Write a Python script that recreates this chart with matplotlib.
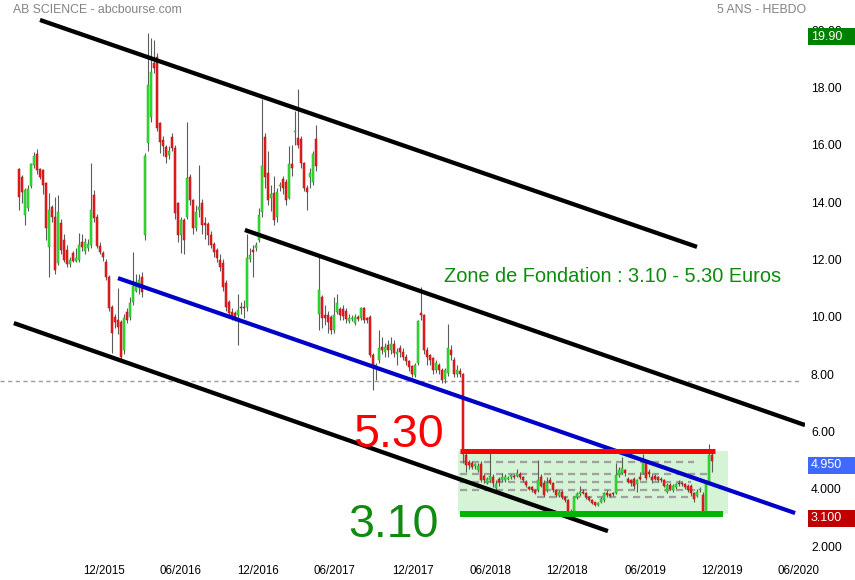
import numpy as np
import matplotlib
matplotlib.use("Agg")
import matplotlib.pyplot as plt
import matplotlib.transforms as mtransforms
from matplotlib import font_manager
from matplotlib.patches import Rectangle

# ---------------------------------------------------------------- weekly OHLC
opens = [
    15.16, 14.88, 13.55, 13.80, 14.57, 15.30, 15.68, 15.16, 15.12, 14.67,
    12.44, 13.83, 13.48, 11.88, 13.27, 12.68, 12.33, 11.84, 12.23, 11.95,
    11.98, 12.60, 12.30, 12.40, 12.51, 14.25, 13.48, 12.47, 12.23, 11.91,
    11.39, 10.34, 9.99, 9.89, 9.82, 8.84, 10.17, 9.99, 10.52, 10.90,
    11.00, 11.39, 12.86, 16.07, 16.97, 18.86, 19.07, 16.76, 16.17, 15.93,
    15.65, 16.28, 15.89, 13.97, 12.85, 13.38, 13.48, 14.88, 14.08, 13.10,
    13.73, 13.97, 13.27, 13.24, 12.85, 12.54, 12.33, 11.98, 11.88, 11.18,
    10.52, 10.17, 10.13, 10.06, 10.33, 10.33, 10.34, 12.02, 12.33, 12.40,
    12.68, 13.66, 16.28, 15.02, 14.15, 14.32, 13.48, 14.55, 14.81, 14.70,
    14.15, 15.33, 16.45, 16.24, 16.20, 15.37, 14.50, 14.88, 14.70, 16.20,
    10.10, 10.69, 10.06, 10.06, 9.99, 9.54, 10.17, 10.27, 10.27, 10.20,
    9.85, 9.93, 9.78, 10.00, 9.96, 10.31, 9.95, 9.99, 8.67, 8.20,
    8.49, 8.94, 8.77, 9.00, 8.84, 9.06, 8.70, 8.92, 8.77, 8.60,
    8.45, 8.27, 7.97, 8.39, 10.13, 10.06, 8.84, 8.65, 8.56, 8.14,
    8.32, 8.14, 7.82, 8.04, 8.84, 8.49, 8.00, 8.10, 8.00, 5.18,
    4.92, 4.90, 4.78, 4.65, 4.85, 4.45, 4.20, 4.30, 4.40, 4.02,
    4.35, 4.30, 4.30, 4.35, 4.42, 4.45, 4.45, 4.50, 4.40, 4.22,
    4.05, 4.05, 3.95, 3.95, 4.40, 4.20, 3.95, 4.30, 4.20, 3.95,
    3.75, 3.90, 3.72, 3.60, 3.20, 3.19, 3.70, 3.80, 3.90, 3.85,
    3.70, 3.62, 3.52, 3.43, 3.55, 3.61, 3.85, 3.80, 3.85, 3.85,
    4.48, 4.55, 4.65, 4.35, 4.30, 4.35, 4.15, 4.40, 4.55, 4.90,
    4.60, 4.40, 4.45, 4.40, 4.35, 4.30, 3.88, 4.13, 3.95, 4.05,
    4.20, 4.20, 4.15, 4.10, 4.10, 3.85, 3.75, 3.95, 3.78, 3.19,
    4.20, 5.18,
]
highs = [
    15.20, 14.95, 14.50, 14.60, 15.37, 15.75, 15.86, 15.20, 15.15, 14.70,
    14.32, 13.90, 14.18, 14.25, 13.40, 12.90, 12.50, 12.10, 12.30, 12.40,
    12.93, 12.90, 12.75, 12.70, 15.37, 14.43, 13.60, 12.60, 12.30, 12.00,
    11.45, 10.40, 10.10, 11.00, 9.90, 10.10, 10.30, 10.70, 12.26, 11.50,
    11.50, 11.55, 15.70, 19.90, 19.74, 19.66, 19.20, 16.80, 16.30, 16.00,
    15.95, 16.42, 16.00, 14.00, 13.50, 13.45, 16.80, 15.00, 14.10, 13.90,
    15.30, 14.10, 13.50, 13.30, 13.00, 12.60, 12.40, 12.20, 12.00, 11.30,
    10.60, 10.30, 10.20, 10.80, 10.50, 10.60, 12.90, 12.40, 12.50, 12.60,
    13.80, 17.60, 16.40, 15.80, 14.60, 14.90, 14.50, 14.70, 14.90, 14.80,
    15.95, 16.00, 17.20, 17.95, 16.30, 15.40, 14.60, 15.20, 15.80, 16.70,
    12.09, 10.75, 10.40, 10.20, 10.05, 10.70, 10.80, 10.35, 10.40, 10.30,
    10.10, 10.05, 10.10, 10.05, 10.35, 10.35, 10.00, 10.05, 8.75, 8.40,
    9.55, 9.30, 9.10, 9.20, 9.30, 9.20, 8.90, 9.00, 8.90, 8.70,
    8.50, 8.30, 8.40, 9.90, 11.04, 10.10, 8.95, 8.70, 8.60, 8.50,
    8.40, 8.20, 8.20, 9.75, 9.00, 8.60, 8.30, 8.20, 8.05, 5.40,
    5.00, 4.95, 4.90, 4.90, 4.95, 4.50, 4.40, 5.25, 4.50, 4.30,
    4.40, 4.55, 4.50, 4.45, 4.50, 4.50, 4.70, 4.60, 4.45, 4.30,
    4.10, 4.10, 4.00, 5.00, 4.50, 4.30, 4.40, 4.40, 4.25, 4.00,
    3.95, 3.95, 3.75, 3.65, 3.30, 3.75, 3.90, 4.10, 4.00, 3.90,
    3.75, 3.65, 3.55, 3.55, 3.70, 3.90, 3.95, 3.85, 3.90, 4.90,
    4.75, 5.10, 4.70, 4.40, 4.35, 4.40, 4.35, 4.60, 5.20, 4.95,
    4.70, 4.50, 4.50, 4.45, 4.40, 4.35, 4.20, 4.20, 4.15, 4.20,
    4.30, 4.25, 4.20, 4.15, 4.15, 3.90, 4.00, 4.05, 3.90, 4.30,
    5.56, 5.30,
]
lows = [
    13.73, 13.97, 13.20, 13.70, 14.50, 15.20, 15.00, 14.80, 14.30, 12.68,
    11.39, 13.30, 11.50, 11.80, 12.20, 11.90, 11.75, 11.75, 11.90, 11.90,
    11.90, 12.30, 12.20, 12.30, 12.40, 13.30, 12.40, 12.20, 11.95, 11.30,
    10.20, 8.74, 9.60, 9.40, 8.50, 8.70, 9.80, 9.90, 10.40, 10.85,
    10.80, 10.70, 12.68, 15.80, 16.80, 18.50, 16.50, 15.70, 15.60, 15.37,
    15.50, 15.80, 13.40, 12.60, 12.23, 12.20, 13.40, 13.90, 12.90, 13.00,
    13.50, 12.90, 12.70, 12.50, 12.40, 12.10, 11.90, 11.60, 10.90, 10.20,
    9.95, 9.90, 9.85, 9.02, 10.10, 9.95, 10.20, 11.90, 11.40, 12.30,
    12.60, 13.50, 14.50, 13.90, 13.70, 13.20, 13.30, 14.40, 14.30, 13.90,
    14.10, 14.90, 16.00, 15.90, 15.20, 14.40, 13.73, 14.50, 14.60, 15.10,
    9.54, 9.60, 9.70, 9.45, 9.40, 9.45, 10.10, 9.90, 9.90, 9.80,
    9.80, 9.85, 9.70, 9.85, 9.90, 9.80, 9.80, 8.60, 7.44, 7.80,
    8.40, 8.70, 8.60, 8.60, 8.70, 8.60, 8.30, 8.60, 8.50, 8.30,
    8.10, 7.90, 7.90, 8.30, 9.90, 8.70, 8.30, 8.30, 8.00, 8.05,
    8.00, 7.70, 7.70, 7.95, 8.50, 7.90, 7.90, 7.90, 4.90, 4.60,
    4.70, 4.70, 4.70, 4.60, 4.25, 4.20, 4.15, 4.25, 4.05, 3.95,
    4.10, 4.25, 4.25, 4.30, 4.35, 4.35, 4.40, 4.35, 4.25, 4.05,
    3.95, 3.90, 3.80, 3.90, 4.05, 3.70, 3.90, 4.15, 3.90, 3.70,
    3.70, 3.65, 3.55, 3.12, 3.10, 3.10, 3.65, 3.75, 3.80, 3.65,
    3.58, 3.45, 3.40, 3.40, 3.50, 3.55, 3.70, 3.70, 3.75, 3.80,
    4.40, 4.50, 4.45, 4.20, 4.10, 4.00, 3.90, 4.30, 4.50, 4.30,
    4.40, 4.20, 4.30, 4.25, 4.25, 4.05, 3.85, 3.95, 3.90, 4.00,
    4.10, 4.10, 4.00, 3.90, 3.75, 3.55, 3.70, 3.90, 3.10, 3.15,
    4.15, 4.60,
]
closes = [
    14.19, 14.36, 14.43, 14.46, 15.33, 15.60, 15.12, 14.88, 14.60, 13.10,
    13.73, 13.48, 11.63, 13.66, 12.33, 11.98, 11.84, 11.98, 11.95, 12.05,
    12.51, 12.45, 12.60, 12.55, 13.73, 13.45, 12.47, 12.26, 12.10, 11.39,
    10.31, 9.43, 9.82, 9.64, 8.60, 9.96, 9.89, 10.48, 11.07, 11.20,
    11.30, 10.87, 15.61, 18.09, 18.54, 18.68, 16.59, 16.10, 15.96, 15.58,
    15.79, 15.89, 13.62, 12.85, 13.38, 12.68, 14.84, 14.08, 13.10, 13.66,
    13.83, 13.20, 13.20, 12.85, 12.50, 12.26, 12.05, 11.74, 11.04, 10.34,
    10.13, 10.03, 9.99, 10.24, 10.30, 10.30, 12.05, 12.16, 12.26, 12.50,
    13.55, 15.26, 14.88, 14.08, 14.29, 13.38, 14.36, 14.60, 14.50, 14.08,
    15.33, 15.20, 16.50, 16.00, 15.37, 14.50, 14.36, 15.02, 15.68, 15.26,
    10.94, 9.96, 9.95, 9.82, 9.54, 10.06, 10.48, 10.06, 10.03, 9.92,
    9.96, 9.97, 10.00, 9.93, 10.31, 9.90, 9.90, 8.67, 8.21, 8.32,
    8.91, 8.84, 8.94, 8.84, 9.06, 8.74, 8.77, 8.77, 8.60, 8.45,
    8.25, 8.00, 8.32, 9.85, 10.06, 8.84, 8.60, 8.50, 8.14, 8.40,
    8.14, 7.79, 8.14, 8.91, 8.67, 8.00, 8.14, 8.00, 5.20, 4.83,
    4.83, 4.75, 4.85, 4.80, 4.30, 4.30, 4.35, 4.45, 4.20, 4.16,
    4.25, 4.40, 4.42, 4.38, 4.48, 4.40, 4.55, 4.40, 4.30, 4.12,
    4.00, 3.95, 3.85, 4.30, 4.10, 3.78, 4.20, 4.20, 3.95, 3.78,
    3.90, 3.72, 3.60, 3.19, 3.15, 3.71, 3.80, 3.90, 3.85, 3.70,
    3.62, 3.50, 3.43, 3.50, 3.65, 3.85, 3.78, 3.75, 3.80, 4.48,
    4.65, 4.72, 4.55, 4.25, 4.20, 4.10, 4.30, 4.35, 4.90, 4.37,
    4.50, 4.30, 4.35, 4.30, 4.30, 4.10, 4.13, 4.00, 4.10, 4.15,
    4.15, 4.15, 4.05, 3.95, 3.85, 3.65, 3.90, 4.00, 3.19, 4.20,
    5.18, 4.95,
]

# ---------------------------------------------------------------- axes labels
xtick_pos = [28.3, 54.0, 79.7, 105.3, 131.3, 157.0, 182.7, 208.7, 234.3, 259.7]
xtick_labels = ["12/2015", "06/2016", "12/2016", "06/2017", "12/2017",
                "06/2018", "12/2018", "06/2019", "12/2019", "06/2020"]
ytick_vals = [2, 4, 6, 8, 10, 12, 14, 16, 18, 20]
ytick_labels = ["2.000", "4.000", "6.00", "8.00", "10.00",
                "12.00", "14.00", "16.00", "18.00", "20.00"]

# ---------------------------------------------------------------- drawings
# trend lines as (bar index, price) end points
channel_top = [(7.0, 20.36), (226.0, 12.44)]
channel_mid = [(75.3, 13.03), (262.0, 6.22)]
channel_low = [(-1.7, 9.78), (196.3, 2.52)]
blue_trend = [(33.0, 11.35), (258.7, 3.15)]

ref_level = 7.75
zone_low, zone_high = 3.10, 5.30
zone_span = (146.3, 236.3)
red_span = (147.0, 232.0)
green_span = (147.0, 234.7)
zone_levels = [4.93, 4.51, 4.22, 3.94, 3.71]
zone_level_start = [147.0, 147.0, 147.0, 147.0, 172.7]
zone_level_end = [225.0, 230.0, 224.0, 227.0, 225.0]

price_tags = [(19.90, "19.90", "#008000"),
              (4.95, "4.950", "#4169ff"),
              (3.10, "3.100", "#c00000")]

# ---------------------------------------------------------------- fonts
names = {f.name for f in font_manager.fontManager.ttflist}
base_font = "Liberation Sans" if "Liberation Sans" in names else "DejaVu Sans"
if "Liberation Sans Narrow" in names:
    date_font, date_size = "Liberation Sans Narrow", 10.0
else:
    date_font, date_size = base_font, 8.3
plt.rcParams["font.family"] = [base_font, "DejaVu Sans"]

W, H = 855, 580
fig = plt.figure(figsize=(W / 100, H / 100), dpi=100)
ax = fig.add_axes([0.0, 24 / H, 805 / W, 556 / H])

o = np.array(opens)
hi = np.array(highs)
lo = np.array(lows)
c = np.array(closes)
idx = np.arange(len(c))
hi = np.maximum(hi, np.maximum(o, c))
lo = np.minimum(lo, np.minimum(o, c))

# foundation zone background
ax.add_patch(Rectangle((zone_span[0], zone_low), zone_span[1] - zone_span[0],
                       zone_high - zone_low, facecolor="#d5f3d5",
                       edgecolor="none", zorder=1))
for lvl, x0, x1 in zip(zone_levels, zone_level_start, zone_level_end):
    ax.plot([x0, x1], [lvl, lvl], color="#a0a0a0", lw=1.6,
            dashes=(3.2, 2.2), zorder=1.5)

ax.axhline(ref_level, xmax=0.995, color="#9a9a9a", lw=1.0, dashes=(3, 2.5),
           zorder=1.5)

# candles
ax.vlines(idx, lo, hi, color="#5c5c5c", lw=0.8, zorder=2)
up = c >= o
body_h = np.maximum(np.abs(c - o), 0.04)
body_b = np.minimum(o, c)
ax.bar(idx[up], body_h[up], bottom=body_b[up], width=0.86,
       color="#2fe42f", edgecolor="#22a822", linewidth=0.35, zorder=3)
ax.bar(idx[~up], body_h[~up], bottom=body_b[~up], width=0.86,
       color="#ee1c1c", edgecolor="#b01212", linewidth=0.35, zorder=3)

# trend lines
for seg in (channel_top, channel_mid, channel_low):
    ax.plot([seg[0][0], seg[1][0]], [seg[0][1], seg[1][1]], color="black",
            lw=3.1, solid_capstyle="butt", zorder=5)
ax.plot([blue_trend[0][0], blue_trend[1][0]], [blue_trend[0][1], blue_trend[1][1]],
        color="#0000c8", lw=3.0, solid_capstyle="butt", zorder=5)

# zone limits
ax.plot(red_span, [zone_high, zone_high], color="#ff0000", lw=3.6,
        solid_capstyle="butt", zorder=6)
ax.plot(green_span, [zone_low, zone_low], color="#00b400", lw=4.3,
        solid_capstyle="butt", zorder=6)

# annotations
ax.text(109.6, 2.314, "3.10", color="#118a11", fontsize=33.5,
        ha="left", va="baseline", zorder=7)
ax.text(111.4, 5.455, "5.30", color="#ff0000", fontsize=33.5,
        ha="left", va="baseline", zorder=7)
ax.text(141.7, 11.21, "Zone de Fondation : 3.10 - 5.30 Euros",
        color="#0c8c0c", fontsize=14.4, ha="left", va="baseline", zorder=7)

# axes styling
for s in ax.spines.values():
    s.set_visible(False)
ax.set_xticks(xtick_pos)
ax.set_xticklabels(xtick_labels, fontsize=date_size, family=[date_font, "DejaVu Sans"])
ax.tick_params(axis="x", length=0, pad=6.5)
ax.yaxis.tick_right()
ax.set_yticks(ytick_vals)
ax.set_yticklabels(ytick_labels, fontsize=8.7)
ax.tick_params(axis="y", length=0, pad=4.3)
ax.patch.set_alpha(0)

# price tags on the right scale
blend = mtransforms.blended_transform_factory(fig.transFigure, ax.transData)
tag_h = 17 / 28.65
for val, txt, col in price_tags:
    yc = val - 0.13
    ax.add_patch(Rectangle((808 / W, yc - tag_h / 2), 0.1, tag_h,
                           transform=blend, facecolor=col, edgecolor="none",
                           clip_on=False, zorder=8))
    ax.text(811 / W, yc, txt, transform=blend, color="white", fontsize=9.0,
            ha="left", va="center", zorder=9, clip_on=False)
ax.set_xlim(-6.33, 262.0)
ax.set_ylim(1.651, 21.057)

# header
fig.text(13 / W, 1 - 12.7 / H, "AB SCIENCE - abcbourse.com", color="#828282",
         fontsize=8.8, ha="left", va="baseline")
fig.text(806 / W, 1 - 12.7 / H, "5 ANS - HEBDO", color="#828282",
         fontsize=8.8, ha="right", va="baseline")

fig.savefig("out.png", dpi=100, facecolor="white")
